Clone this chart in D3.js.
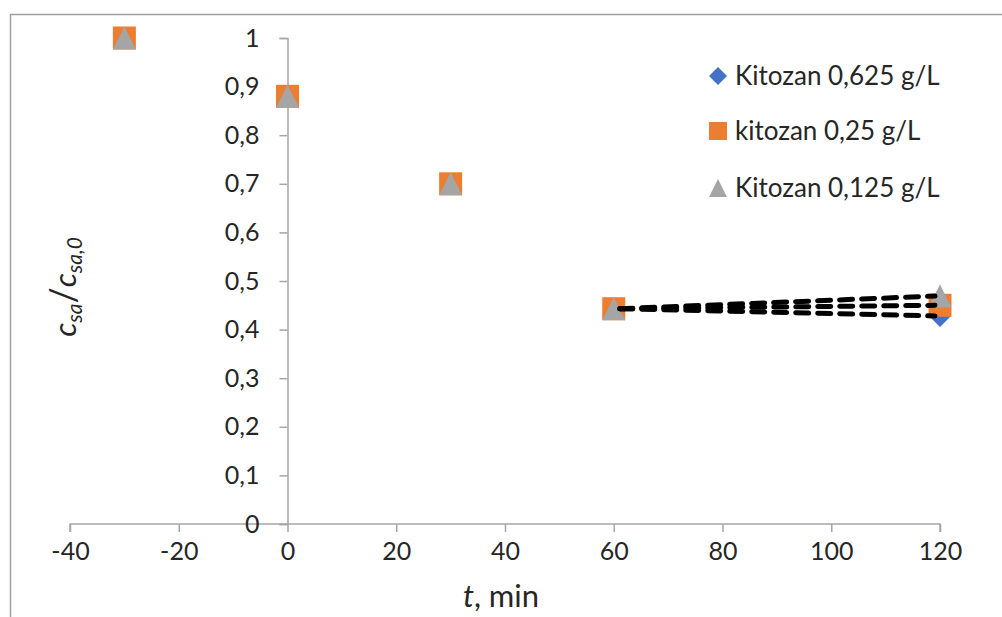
<!DOCTYPE html>
<html>
<head>
<meta charset="utf-8">
<script src="https://cdn.jsdelivr.net/npm/d3@7"></script>
<style>
  html, body { margin: 0; padding: 0; background: #fff; }
  svg { display: block; font-family: Lato, "Open Sans", sans-serif; }
</style>
</head>
<body>
<svg id="chart" width="1002" height="617"></svg>
<script>
// ---- data ----
const times = [-30, 0, 30, 60, 120];
const kitozan0625 = [1.0, 0.88, 0.70, 0.443, 0.428];
const kitozan025 = [1.0, 0.88, 0.70, 0.443, 0.45];
const kitozan0125 = [1.0, 0.88, 0.70, 0.443, 0.469];
const seriesNames = ["Kitozan 0,625 g/L", "kitozan 0,25 g/L", "Kitozan 0,125 g/L"];
const xTicks = [-40, -20, 0, 20, 40, 60, 80, 100, 120];
const yTicks = [0, 0.1, 0.2, 0.3, 0.4, 0.5, 0.6, 0.7, 0.8, 0.9, 1];
const trendFrom = 60, trendTo = 120;

const series = [
  { name: seriesNames[0], values: kitozan0625, color: "#4472C4", shape: "diamond" },
  { name: seriesNames[1], values: kitozan025, color: "#ED7D31", shape: "square" },
  { name: seriesNames[2], values: kitozan0125, color: "#A5A5A5", shape: "triangle" }
];

const svg = d3.select("#chart");
const axisColor = "#a6a6a6";
const textColor = "#262626";

// outer frame (top and left edges visible)
svg.append("path")
  .attr("d", "M10.5,617 V14.5 H1002")
  .attr("fill", "none").attr("stroke", "#a0a0a0").attr("stroke-width", 1.5);

const x = d3.scaleLinear().domain([-40, 120]).range([70, 940]);
const y = d3.scaleLinear().domain([0, 1]).range([524, 38]);

const fmt = v => d3.format(".1~f")(v).replace(".", ",");

// x axis at y=0
const xAxis = svg.append("g").attr("transform", `translate(0,${y(0)})`)
  .call(d3.axisBottom(x).tickValues(xTicks).tickSize(8).tickPadding(10).tickFormat(d => d));
xAxis.select(".domain").attr("d", `M${x(-40)},8V0H${x(120)}V8`);
xAxis.selectAll("path, line").attr("stroke", axisColor).attr("stroke-width", 1.5);
xAxis.selectAll("text").attr("font-size", 25).attr("fill", textColor)
  .attr("font-family", "Lato, 'Open Sans', sans-serif");

// y axis at x=0
const yAxis = svg.append("g").attr("transform", `translate(${x(0)},0)`)
  .call(d3.axisLeft(y).tickValues(yTicks).tickSize(8).tickPadding(20).tickFormat(fmt));
yAxis.selectAll("path, line").attr("stroke", axisColor).attr("stroke-width", 1.5);
yAxis.selectAll("text").attr("font-size", 25).attr("fill", textColor)
  .attr("font-family", "Lato, 'Open Sans', sans-serif");

// marker generators
function markerPath(shape, s) {
  const h = s / 2;
  if (shape === "square") return `M${-h},${-h}H${h}V${h}H${-h}Z`;
  if (shape === "triangle") return `M0,${-h}L${h},${h}L${-h},${h}Z`;
  return `M0,${-h}L${h},0L0,${h}L${-h},0Z`;
}

// series markers
series.forEach(s => {
  svg.append("g").selectAll("path")
    .data(times.map((t, i) => ({ t, v: s.values[i] })))
    .join("path")
    .attr("transform", d => `translate(${x(d.t)},${y(d.v)})`)
    .attr("d", markerPath(s.shape, s.shape === "diamond" ? 22 : 23))
    .attr("fill", s.color);
});

// dashed trend lines between t=60 and t=120
series.forEach(s => {
  const i0 = times.indexOf(trendFrom), i1 = times.indexOf(trendTo);
  svg.append("line")
    .attr("x1", x(trendFrom) + 6).attr("y1", y(s.values[i0]))
    .attr("x2", x(trendTo) - 5).attr("y2", y(s.values[i1]))
    .attr("stroke", "#000").attr("stroke-width", 5)
    .attr("stroke-dasharray", "13,9").attr("stroke-linecap", "round");
});

// legend
const legendRows = [76, 131, 188];
series.forEach((s, i) => {
  const g = svg.append("g").attr("transform", `translate(718,${legendRows[i]})`);
  g.append("path").attr("d", markerPath(s.shape, 18)).attr("fill", s.color);
  g.append("text").attr("x", 17).attr("dy", "0.35em")
    .attr("font-size", 26).attr("fill", textColor).text(s.name);
});

// x axis title
const xt = svg.append("text").attr("x", 501).attr("y", 607)
  .attr("text-anchor", "middle").attr("font-size", 31).attr("fill", textColor);
xt.append("tspan").attr("font-style", "italic").text("t");
xt.append("tspan").text(", min");

// y axis title
const yt = svg.append("text")
  .attr("transform", "translate(76,287) rotate(-90)")
  .attr("text-anchor", "middle").attr("fill", textColor).attr("font-style", "italic");
yt.append("tspan").attr("font-size", 31).text("c");
yt.append("tspan").attr("font-size", 21).attr("dy", 6).text("sa");
yt.append("tspan").attr("font-size", 36).attr("dy", -6).attr("font-style", "normal").text("/");
yt.append("tspan").attr("font-size", 31).text("c");
yt.append("tspan").attr("font-size", 21).attr("dy", 6).text("sa,0");
</script>
</body>
</html>
